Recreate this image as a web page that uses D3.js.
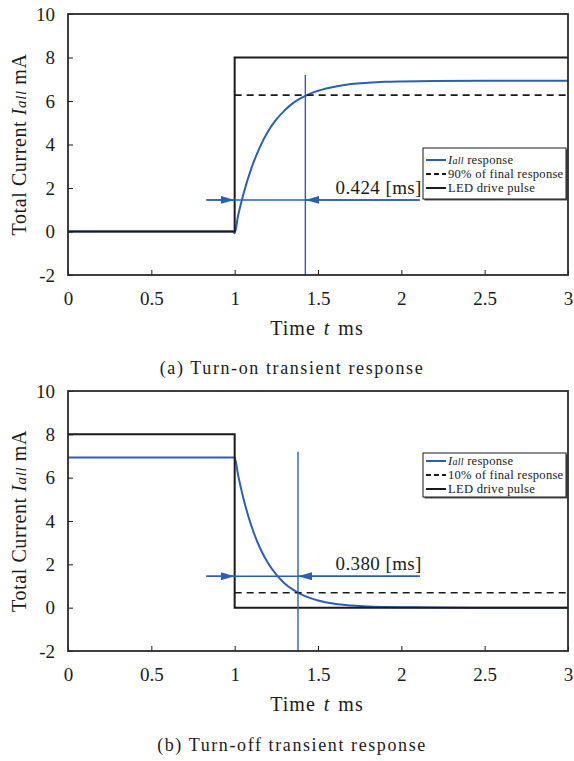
<!DOCTYPE html>
<html>
<head>
<meta charset="utf-8">
<script src="https://cdn.jsdelivr.net/npm/d3@7"></script>
<style>
  html, body { margin: 0; padding: 0; background: #fff; }
  svg { display: block; font-family: "Liberation Serif", "Times New Roman", serif; }
</style>
</head>
<body>
<svg id="chart" width="574" height="761"></svg>
<script>
// Measured turn-on / turn-off current (mA) against time (ms)
const timeSamples = [0, 0.5, 0.99, 1.0, 1.02, 1.05, 1.10, 1.15, 1.20, 1.25, 1.30, 1.35, 1.40, 1.45, 1.50, 1.60, 1.70, 1.80, 1.90, 2.0, 2.2, 2.5, 3.0];
const responseOn  = [0, 0, 0, -0.08, 0.71, 1.65, 2.90, 3.86, 4.60, 5.15, 5.57, 5.90, 6.14, 6.33, 6.47, 6.66, 6.78, 6.84, 6.88, 6.90, 6.92, 6.93, 6.93];
const responseOff = [6.93, 6.93, 6.93, 6.93, 6.14, 5.12, 3.78, 2.79, 2.06, 1.52, 1.12, 0.83, 0.61, 0.45, 0.33, 0.18, 0.10, 0.05, 0.03, 0.02, 0.01, 0, 0];

// LED drive pulse (mA)
const pulseTime = [0, 1, 1, 3];
const pulseOn   = [0, 0, 8, 8];
const pulseOff  = [8, 8, 0, 0];

// Reference levels and measured delays
const levelOn90  = 6.27;
const levelOff10 = 0.69;
const delayOn  = 0.424;
const delayOff = 0.380;
const arrowLevel = 1.45;

const xTicks = [0, 0.5, 1, 1.5, 2, 2.5, 3];
const xTickLabels = ["0", "0.5", "1", "1.5", "2", "2.5", "3"];
const yTicks = [-2, 0, 2, 4, 6, 8, 10];
const yTickLabels = ["-2", "0", "2", "4", "6", "8", "10"];

const legendOn  = ["response", "90% of final response", "LED drive pulse"];
const legendOff = ["response", "10% of final response", "LED drive pulse"];
const captions  = ["(a) Turn-on transient response", "(b) Turn-off transient response"];

const BLUE = "#2b5fb4";
const INK = "#1a1a1a";
const FONT = "'Liberation Serif', 'Times New Roman', serif";

const svg = d3.select("#chart");

// arrowhead marker for the delay dimension line
svg.append("defs").append("marker")
  .attr("id", "arrowHead")
  .attr("viewBox", "0 0 14 8")
  .attr("refX", 14).attr("refY", 4)
  .attr("markerWidth", 14).attr("markerHeight", 8)
  .attr("markerUnits", "userSpaceOnUse")
  .attr("orient", "auto")
  .append("path").attr("d", "M0,0 L14,4 L0,8 Z").attr("fill", BLUE);

function drawPanel(cfg) {
  const g = svg.append("g").attr("font-family", FONT);
  const x = d3.scaleLinear().domain([0, 3]).range([cfg.left, cfg.right]);
  const y = d3.scaleLinear().domain([-2, 10]).range([cfg.bottom, cfg.top]);

  // tick marks (inward) and labels
  const xAxis = d3.axisBottom(x).tickValues(xTicks).tickSize(-5).tickPadding(17)
    .tickFormat((d, i) => xTickLabels[i]);
  const gx = g.append("g").attr("transform", `translate(0,${cfg.bottom})`).call(xAxis);
  const yAxis = d3.axisLeft(y).tickValues(yTicks).tickSize(-5).tickPadding(13)
    .tickFormat((d, i) => yTickLabels[i]);
  const gy = g.append("g").attr("transform", `translate(${cfg.left},0)`).call(yAxis);
  [gx, gy].forEach(a => {
    a.attr("font-family", FONT).attr("font-size", 19);
    a.select(".domain").remove();
    a.selectAll(".tick line").attr("stroke", INK).attr("stroke-width", 1);
    a.selectAll(".tick text").attr("fill", INK);
  });

  const line = d3.line().x(d => x(d[0])).y(d => y(d[1]));

  // response curve
  g.append("path")
    .datum(timeSamples.map((t, i) => [t, cfg.response[i]]))
    .attr("d", d3.line().curve(d3.curveMonotoneX).x(d => x(d[0])).y(d => y(d[1])))
    .attr("fill", "none").attr("stroke", BLUE).attr("stroke-width", 2);

  // threshold level (dashed)
  g.append("line")
    .attr("x1", x(1)).attr("x2", x(3))
    .attr("y1", y(cfg.level)).attr("y2", y(cfg.level))
    .attr("stroke", INK).attr("stroke-width", 1.6).attr("stroke-dasharray", "7,5");

  // drive pulse
  g.append("path")
    .datum(pulseTime.map((t, i) => [t, cfg.pulse[i]]))
    .attr("d", line)
    .attr("fill", "none").attr("stroke", INK).attr("stroke-width", 2);

  // delay marker: vertical line at 1 + delay
  const tEnd = 1 + cfg.delay;
  g.append("line")
    .attr("x1", x(tEnd)).attr("x2", x(tEnd))
    .attr("y1", y(7.2)).attr("y2", y(-2))
    .attr("stroke", BLUE).attr("stroke-width", 1.4);

  // horizontal dimension line with arrows
  g.append("line")
    .attr("x1", x(0.83)).attr("x2", x(2.11))
    .attr("y1", y(arrowLevel)).attr("y2", y(arrowLevel))
    .attr("stroke", BLUE).attr("stroke-width", 1.4);
  g.append("line")
    .attr("x1", x(0.83)).attr("x2", x(1))
    .attr("y1", y(arrowLevel)).attr("y2", y(arrowLevel))
    .attr("stroke", BLUE).attr("stroke-width", 1.4)
    .attr("marker-end", "url(#arrowHead)");
  g.append("line")
    .attr("x1", x(2.11)).attr("x2", x(tEnd))
    .attr("y1", y(arrowLevel)).attr("y2", y(arrowLevel))
    .attr("stroke", BLUE).attr("stroke-width", 1.4)
    .attr("marker-end", "url(#arrowHead)");

  g.append("text")
    .attr("x", x(1.605)).attr("y", y(arrowLevel) - 6)
    .attr("font-size", 19).attr("letter-spacing", 0.4).attr("fill", INK)
    .text(cfg.delay.toFixed(3) + " [ms]");

  // legend
  const lx = cfg.legendX, ly = cfg.legendY, lw = 143, lh = cfg.legendH;
  g.append("rect").attr("x", lx + 1.5).attr("y", ly + 1.5).attr("width", lw).attr("height", lh)
    .attr("fill", "#555");
  g.append("rect").attr("x", lx).attr("y", ly).attr("width", lw).attr("height", lh)
    .attr("fill", "#fff").attr("stroke", INK).attr("stroke-width", 1);
  const styles = [
    { stroke: BLUE, dash: null },
    { stroke: INK, dash: "5,3" },
    { stroke: INK, dash: null }
  ];
  cfg.legend.forEach((label, i) => {
    const yy = ly + cfg.legendRow0 + i * cfg.legendStep;
    g.append("line").attr("x1", lx + 3).attr("x2", lx + 23)
      .attr("y1", yy).attr("y2", yy)
      .attr("stroke", styles[i].stroke).attr("stroke-width", 2)
      .attr("stroke-dasharray", styles[i].dash);
    const t = g.append("text").attr("x", lx + 25).attr("y", yy + 4)
      .attr("font-size", 12.6).attr("letter-spacing", 0.25).attr("fill", INK);
    if (i === 0) {
      t.append("tspan").attr("font-style", "italic").text("I");
      t.append("tspan").attr("font-style", "italic").attr("font-size", 10).text("all");
      t.append("tspan").text(" " + label);
    } else {
      t.text(label);
    }
  });

  // frame
  g.append("rect")
    .attr("x", cfg.left).attr("y", cfg.top)
    .attr("width", cfg.right - cfg.left).attr("height", cfg.bottom - cfg.top)
    .attr("fill", "none").attr("stroke", "#2a2a2a").attr("stroke-width", 1.8);

  // axis titles
  const xt = g.append("text")
    .attr("x", (cfg.left + cfg.right) / 2 - 1).attr("y", cfg.bottom + 60)
    .attr("text-anchor", "middle").attr("font-size", 20)
    .attr("letter-spacing", 1).attr("word-spacing", 2).attr("fill", INK);
  xt.append("tspan").text("Time ");
  xt.append("tspan").attr("font-style", "italic").text("t");
  xt.append("tspan").text(" ms");

  const yt = g.append("text")
    .attr("transform", `translate(${cfg.left - 42},${(cfg.top + cfg.bottom) / 2}) rotate(-90)`)
    .attr("text-anchor", "middle").attr("font-size", 20)
    .attr("letter-spacing", 0.6).attr("fill", INK);
  yt.append("tspan").text("Total Current ");
  yt.append("tspan").attr("font-style", "italic").text("I");
  yt.append("tspan").attr("font-style", "italic").attr("font-size", 15).text("all");
  yt.append("tspan").text(" mA");

  // caption
  g.append("text")
    .attr("x", 292).attr("y", cfg.captionY)
    .attr("text-anchor", "middle").attr("font-size", 18)
    .attr("letter-spacing", 1.6).attr("fill", INK)
    .text(cfg.caption);
}

drawPanel({
  left: 68, right: 568, top: 14, bottom: 275,
  response: responseOn, pulse: pulseOn, level: levelOn90, delay: delayOn,
  legend: legendOn, legendX: 423, legendY: 148, legendH: 51, legendRow0: 12, legendStep: 14,
  caption: captions[0], captionY: 374
});

drawPanel({
  left: 68, right: 568, top: 391, bottom: 651,
  response: responseOff, pulse: pulseOff, level: levelOff10, delay: delayOff,
  legend: legendOff, legendX: 423, legendY: 453, legendH: 44, legendRow0: 8, legendStep: 14,
  caption: captions[1], captionY: 751
});
</script>
</body>
</html>
